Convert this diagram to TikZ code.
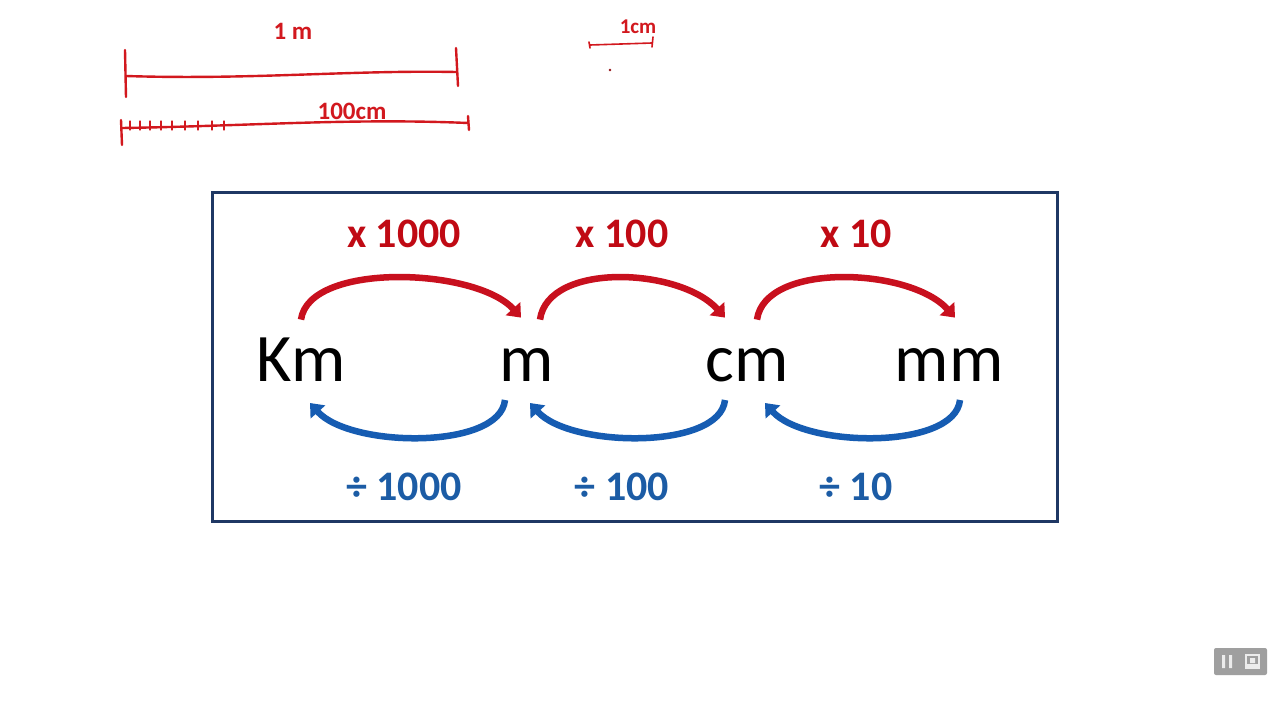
\documentclass[tikz,border=0pt]{standalone}
\usepackage{fontspec}
\setmainfont{Carlito}
\usetikzlibrary{arrows.meta}

\definecolor{arcred}{RGB}{200,16,30}
\definecolor{labred}{RGB}{192,10,20}
\definecolor{arcblue}{RGB}{22,92,178}
\definecolor{labblue}{RGB}{28,92,165}
\definecolor{framenavy}{RGB}{31,56,100}
\definecolor{penred}{RGB}{210,24,30}

\tikzset{
  unit/.style={font=\fontsize{68}{70}\selectfont, inner sep=0pt, text height=44pt, text depth=0pt, anchor=south},
  factor/.style={font=\fontsize{42}{44}\selectfont\bfseries, inner sep=0pt, anchor=base},
  redarc/.style={arcred, line width=6.5pt, -{Triangle[length=12pt,width=19pt]}},
  bluearc/.style={arcblue, line width=6.5pt, -{Triangle[length=12pt,width=19pt]}},
  pen/.style={penred, line width=2.4pt, line cap=round},
  pentext/.style={text=penred, font=\fontsize{25}{27}\selectfont\bfseries, inner sep=0pt}
}

\begin{document}
\begin{tikzpicture}[x=1pt, y=-1pt, >=Latex]
    \useasboundingbox[fill=white] (0,0) rectangle (1280,720);
    % hand notes
    \node[pentext] (onem) at (293,31) {1 m};
    \draw[pen] (125,50) -- (126,97);
    \draw[pen] (126,76) .. controls (250,80) and (350,70) .. (456,72);
    \draw[pen] (456,48) -- (458,86);
    \node[pentext] (hundredcm) at (352,111) {100cm};
    \draw[pen] (121,120) -- (122,145);
    \draw[pen] (122,128) .. controls (250,126) and (350,118) .. (468,123);
    \draw[pen] (468,116) -- (469,130);
    \foreach \x in {130,140,150,161,172,185,198,212,224}
      \draw[pen, line width=1.2pt] (\x,121) -- (\x,130);
    \node[pentext, font=\fontsize{21}{23}\selectfont\bfseries] (onecm) at (638,27) {1cm};
    \draw[pen, line width=1.6pt] (589,42) -- (590,48);
    \draw[pen, line width=1.6pt] (590,45) -- (652,43);
    \draw[pen, line width=1.6pt] (653,37) -- (652,47);
    \fill[penred!70!black] (610,70) circle (1.3);
    % frame
    \draw[framenavy, line width=3pt] (212,192) rectangle (1057,521);
    % units
    \foreach \x/\u in {301/Km,527/m,747/cm,949/mm}
      \node[unit] (\u) at (\x,382) {\u};
    % factors
    \foreach \x/\n/\v in {404/a/1000,622/b/100,856/c/10} {
      \node[factor, text=labred] (mul\n) at (\x,247) {x \v};
      \node[factor, text=labblue] (div\n) at (\x,500) {÷ \v};
    }
    % arcs
    \foreach \a/\sa/\b/\sb/\ta/\tb in {Km/0/m/-6/9/-22, m/13/cm/-22/3/-22, cm/10/mm/6/18/11} {
      \draw[redarc] ([xshift=\sa pt,yshift=18pt]\a.north)
        .. controls +(8,-58) and +(-45,-50) .. ([xshift=\sb pt,yshift=20pt]\b.north);
      \draw[bluearc] ([xshift=\tb pt,yshift=-18pt]\b.south)
        .. controls +(-5,50) and +(40,45) .. ([xshift=\ta pt,yshift=-21pt]\a.south);
    }
    % player buttons
    \fill[gray!75, rounded corners=2pt] (1214,648) rectangle (1267,675);
    \fill[white!85!gray] (1222,655) rectangle (1225,668) (1229,655) rectangle (1232,668);
    \draw[white!85!gray, line width=1.2pt] (1246,655) rectangle (1259,668);
    \fill[white!85!gray] (1250,658) rectangle (1255,663) (1247,664) rectangle (1258,668);
\end{tikzpicture}
\end{document}
